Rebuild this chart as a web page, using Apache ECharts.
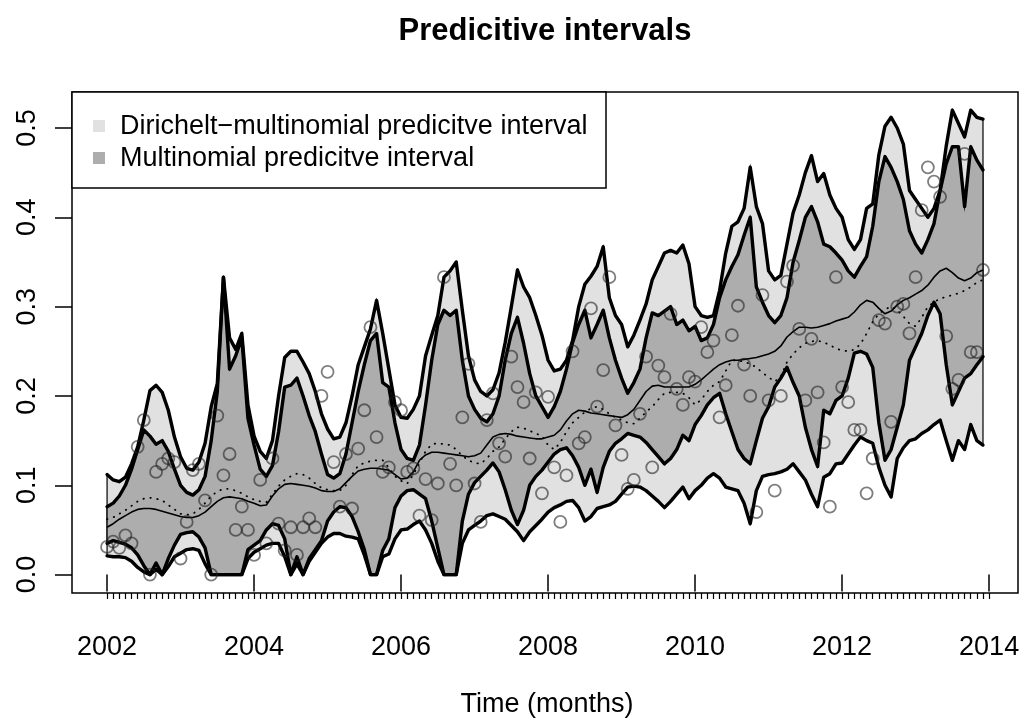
<!DOCTYPE html>
<html>
<head>
<meta charset="utf-8">
<script src="https://cdn.jsdelivr.net/npm/echarts@6/dist/echarts.min.js"></script>
<style>
  html, body { margin: 0; padding: 0; background: #fff; }
  #chart { width: 1023px; height: 725px; }
</style>
</head>
<body>
<div id="chart"></div>
<script>
// Monthly series, January 2002 .. December 2013
const startYear = 2002;

const outerUpper = [
  0.112, 0.106, 0.104, 0.109, 0.124, 0.143, 0.173, 0.206, 0.212, 0.204, 0.184, 0.154,
  0.132, 0.119, 0.117, 0.126, 0.147, 0.188, 0.214, 0.333, 0.265, 0.252, 0.270, 0.190,
  0.155, 0.138, 0.130, 0.150, 0.200, 0.243, 0.250, 0.250, 0.238, 0.225, 0.205, 0.180,
  0.163, 0.152, 0.154, 0.170, 0.200, 0.235, 0.255, 0.275, 0.307, 0.270, 0.230, 0.190,
  0.176, 0.175, 0.185, 0.200, 0.245, 0.268, 0.290, 0.333, 0.340, 0.350, 0.296, 0.245,
  0.218, 0.205, 0.200, 0.207, 0.226, 0.260, 0.300, 0.341, 0.322, 0.310, 0.290, 0.268,
  0.240, 0.228, 0.230, 0.240, 0.262, 0.300, 0.325, 0.334, 0.345, 0.367, 0.310, 0.290,
  0.280, 0.255, 0.268, 0.285, 0.303, 0.330, 0.345, 0.360, 0.363, 0.360, 0.369, 0.348,
  0.300, 0.290, 0.288, 0.290, 0.318, 0.360, 0.390, 0.395, 0.410, 0.456, 0.412, 0.393,
  0.340, 0.330, 0.335, 0.370, 0.405, 0.425, 0.450, 0.469, 0.440, 0.449, 0.425, 0.410,
  0.400, 0.375, 0.364, 0.375, 0.410, 0.415, 0.470, 0.502, 0.512, 0.500, 0.482, 0.430,
  0.420, 0.410, 0.400, 0.410, 0.430, 0.480, 0.520, 0.505, 0.490, 0.520, 0.512, 0.510
];

const innerUpper = [
  0.076, 0.080, 0.088, 0.100, 0.118, 0.140, 0.162, 0.155, 0.146, 0.150, 0.138, 0.118,
  0.100, 0.092, 0.089, 0.095, 0.110, 0.150, 0.205, 0.333, 0.230, 0.245, 0.265, 0.175,
  0.145, 0.118, 0.110, 0.122, 0.160, 0.210, 0.212, 0.220, 0.200, 0.178, 0.160, 0.135,
  0.112, 0.108, 0.113, 0.135, 0.170, 0.205, 0.235, 0.262, 0.270, 0.215, 0.210, 0.170,
  0.140, 0.130, 0.128, 0.145, 0.190, 0.240, 0.280, 0.296, 0.290, 0.296, 0.240, 0.200,
  0.185, 0.175, 0.171, 0.180, 0.200, 0.240, 0.270, 0.288, 0.259, 0.225, 0.200, 0.188,
  0.176, 0.188, 0.205, 0.230, 0.260, 0.280, 0.296, 0.265, 0.280, 0.296, 0.265, 0.240,
  0.220, 0.203, 0.215, 0.230, 0.265, 0.293, 0.290, 0.295, 0.300, 0.280, 0.285, 0.273,
  0.278, 0.262, 0.265, 0.280, 0.310, 0.330, 0.345, 0.358, 0.380, 0.400, 0.322, 0.305,
  0.290, 0.282, 0.290, 0.310, 0.350, 0.374, 0.400, 0.412, 0.395, 0.370, 0.367, 0.360,
  0.352, 0.340, 0.333, 0.345, 0.356, 0.390, 0.440, 0.468, 0.456, 0.440, 0.420, 0.385,
  0.370, 0.360, 0.375, 0.393, 0.430, 0.460, 0.479, 0.479, 0.412, 0.479, 0.464, 0.453
];

const innerLower = [
  0.035, 0.038, 0.036, 0.034, 0.030, 0.022, 0.010, 0.000, 0.013, 0.000, 0.018, 0.033,
  0.045, 0.047, 0.048, 0.042, 0.030, 0.000, 0.000, 0.000, 0.000, 0.000, 0.000, 0.028,
  0.033, 0.038, 0.050, 0.057, 0.055, 0.040, 0.000, 0.020, 0.000, 0.018, 0.028, 0.038,
  0.060, 0.070, 0.076, 0.075, 0.065, 0.048, 0.028, 0.000, 0.000, 0.027, 0.040, 0.075,
  0.088, 0.094, 0.095, 0.090, 0.085, 0.060, 0.030, 0.000, 0.000, 0.000, 0.060, 0.090,
  0.103, 0.110, 0.117, 0.125, 0.115, 0.095, 0.072, 0.056, 0.072, 0.100, 0.110, 0.117,
  0.126, 0.135, 0.140, 0.142, 0.133, 0.120, 0.100, 0.118, 0.092, 0.120, 0.138, 0.147,
  0.152, 0.158, 0.156, 0.154, 0.148, 0.140, 0.132, 0.124, 0.130, 0.140, 0.156, 0.150,
  0.168, 0.178, 0.190, 0.198, 0.203, 0.180, 0.160, 0.140, 0.130, 0.124, 0.150, 0.175,
  0.188, 0.210, 0.220, 0.232, 0.215, 0.200, 0.165, 0.140, 0.121, 0.184, 0.180, 0.195,
  0.200, 0.220, 0.248, 0.250, 0.247, 0.232, 0.170, 0.128, 0.140, 0.165, 0.190, 0.240,
  0.255, 0.270, 0.290, 0.305, 0.292, 0.235, 0.190, 0.205, 0.220, 0.225, 0.235, 0.244
];

const outerLower = [
  0.021, 0.020, 0.020, 0.019, 0.015, 0.008, 0.003, 0.000, 0.006, 0.000, 0.009, 0.020,
  0.024, 0.028, 0.029, 0.027, 0.012, 0.000, 0.000, 0.000, 0.000, 0.000, 0.000, 0.018,
  0.025, 0.029, 0.033, 0.035, 0.035, 0.020, 0.000, 0.012, 0.000, 0.015, 0.025, 0.035,
  0.042, 0.046, 0.046, 0.043, 0.042, 0.040, 0.022, 0.000, 0.000, 0.020, 0.023, 0.040,
  0.050, 0.051, 0.056, 0.060, 0.050, 0.035, 0.015, 0.000, 0.000, 0.000, 0.035, 0.050,
  0.055, 0.060, 0.066, 0.068, 0.065, 0.062, 0.055, 0.048, 0.038, 0.048, 0.055, 0.062,
  0.070, 0.075, 0.078, 0.082, 0.083, 0.075, 0.060, 0.065, 0.074, 0.076, 0.078, 0.082,
  0.090, 0.098, 0.099, 0.098, 0.094, 0.088, 0.082, 0.075, 0.082, 0.090, 0.098, 0.085,
  0.094, 0.100, 0.108, 0.113, 0.108, 0.098, 0.096, 0.094, 0.080, 0.057, 0.094, 0.110,
  0.112, 0.113, 0.115, 0.118, 0.124, 0.115, 0.106, 0.090, 0.076, 0.109, 0.113, 0.124,
  0.125, 0.135, 0.145, 0.154, 0.150, 0.147, 0.120, 0.100, 0.087, 0.130, 0.142, 0.150,
  0.152, 0.158, 0.162, 0.168, 0.173, 0.150, 0.128, 0.150, 0.140, 0.168, 0.150, 0.145
];

const fittedMean = [
  0.053, 0.057, 0.062, 0.066, 0.070, 0.073, 0.074, 0.074, 0.073, 0.071, 0.069, 0.067,
  0.065, 0.064, 0.064, 0.066, 0.070, 0.076, 0.082, 0.086, 0.087, 0.086, 0.085, 0.082,
  0.080, 0.077, 0.078, 0.088, 0.096, 0.101, 0.102, 0.101, 0.100, 0.099, 0.097, 0.094,
  0.093, 0.093, 0.096, 0.103, 0.110, 0.116, 0.118, 0.119, 0.119, 0.118, 0.117, 0.112,
  0.107, 0.108, 0.115, 0.128, 0.134, 0.137, 0.137, 0.136, 0.135, 0.134, 0.133, 0.132,
  0.133, 0.136, 0.145, 0.154, 0.157, 0.158, 0.157, 0.155, 0.154, 0.153, 0.152, 0.152,
  0.154, 0.156, 0.162, 0.172, 0.180, 0.184, 0.183, 0.181, 0.180, 0.179, 0.178, 0.177,
  0.176, 0.179, 0.185, 0.195, 0.205, 0.211, 0.212, 0.210, 0.210, 0.210, 0.210, 0.210,
  0.213, 0.218, 0.224, 0.230, 0.235, 0.238, 0.240, 0.240, 0.241, 0.242, 0.243, 0.245,
  0.247, 0.250, 0.256, 0.266, 0.272, 0.277, 0.277, 0.276, 0.277, 0.279, 0.281, 0.284,
  0.286, 0.288, 0.294, 0.302, 0.307, 0.305, 0.298, 0.292, 0.295, 0.302, 0.307, 0.310,
  0.314, 0.318, 0.324, 0.333, 0.340, 0.343, 0.338, 0.332, 0.329, 0.332, 0.338, 0.341
];

const smoothedTrend = [
  0.062, 0.064, 0.068, 0.072, 0.077, 0.082, 0.085, 0.086, 0.085, 0.083, 0.078, 0.073,
  0.068, 0.067, 0.068, 0.073, 0.080, 0.088, 0.093, 0.096, 0.096, 0.094, 0.091, 0.087,
  0.084, 0.082, 0.081, 0.090, 0.099, 0.106, 0.110, 0.113, 0.112, 0.108, 0.102, 0.097,
  0.095, 0.094, 0.094, 0.100, 0.112, 0.122, 0.125, 0.127, 0.128, 0.128, 0.120, 0.110,
  0.105, 0.102, 0.112, 0.125, 0.138, 0.146, 0.147, 0.146, 0.145, 0.140, 0.133, 0.128,
  0.125, 0.124, 0.130, 0.138, 0.143, 0.152, 0.160, 0.165, 0.164, 0.161, 0.158, 0.155,
  0.145, 0.140, 0.148, 0.160, 0.170, 0.176, 0.182, 0.186, 0.188, 0.185, 0.180, 0.176,
  0.173, 0.170, 0.169, 0.175, 0.182, 0.188, 0.196, 0.203, 0.204, 0.204, 0.203, 0.198,
  0.190, 0.196, 0.205, 0.212, 0.216, 0.228, 0.240, 0.240, 0.238, 0.236, 0.232, 0.226,
  0.221, 0.216, 0.222, 0.238, 0.247, 0.254, 0.259, 0.261, 0.262, 0.260, 0.257, 0.253,
  0.251, 0.250, 0.252, 0.258, 0.270, 0.283, 0.292, 0.297, 0.300, 0.296, 0.289, 0.281,
  0.278, 0.288, 0.300, 0.305, 0.309, 0.311, 0.313, 0.315, 0.318, 0.322, 0.327, 0.330
];

const observed = [
  0.031, 0.037, 0.030, 0.044, 0.035, 0.143, 0.173, 0.000, 0.115, 0.124, 0.130, 0.126,
  0.018, 0.059, 0.117, 0.124, 0.083, 0.000, 0.178, 0.111, 0.135, 0.050, 0.076, 0.050,
  0.022, 0.106, 0.035, 0.130, 0.057, 0.027, 0.053, 0.022, 0.053, 0.063, 0.053, 0.200,
  0.227, 0.126, 0.076, 0.135, 0.074, 0.141, 0.184, 0.277, 0.154, 0.115, 0.120, 0.193,
  0.184, 0.115, 0.119, 0.066, 0.107, 0.061, 0.102, 0.333, 0.124, 0.100, 0.176, 0.236,
  0.102, 0.059, 0.173, 0.203, 0.147, 0.132, 0.244, 0.210, 0.193, 0.130, 0.204, 0.091,
  0.199, 0.120, 0.059, 0.111, 0.250, 0.147, 0.154, 0.298, 0.188, 0.229, 0.333, 0.167,
  0.134, 0.096, 0.106, 0.180, 0.244, 0.120, 0.234, 0.221, 0.292, 0.208, 0.190, 0.221,
  0.216, 0.277, 0.249, 0.262, 0.176, 0.212, 0.268, 0.301, 0.235, 0.200, 0.070, 0.313,
  0.195, 0.094, 0.200, 0.328, 0.346, 0.275, 0.195, 0.264, 0.204, 0.148, 0.076, 0.333,
  0.210, 0.193, 0.162, 0.162, 0.091, 0.130, 0.285, 0.281, 0.171, 0.300, 0.303, 0.270,
  0.333, 0.408, 0.456, 0.440, 0.423, 0.267, 0.208, 0.218, 0.471, 0.249, 0.249, 0.341
];

const yearTicks = [2002, 2004, 2006, 2008, 2010, 2012, 2014];
const valueTicks = [0, 0.1, 0.2, 0.3, 0.4, 0.5];
const legendLabels = ['Dirichelt\u2212multinomial predicitve interval', 'Multinomial predicitve interval'];
const titleText = 'Predicitive intervals';
const xTitle = 'Time (months)';

// Month positions on the time axis
const time = observed.map((_, i) => startYear + i / 12);
const monthTicks = [];
for (let k = 0; k <= 144; k++) monthTicks.push(startYear + k / 12);

const LIGHT = '#e1e1e1';
const DARK = '#adadad';
const FONT = 'Liberation Sans, Arial, Helvetica, sans-serif';

function band(lower, upper, color, z) {
  return {
    type: 'custom',
    coordinateSystem: 'cartesian2d',
    silent: true,
    z: z,
    data: [[time[0], upper[0]]],
    renderItem: function (params, api) {
      const pts = [];
      for (let i = 0; i < time.length; i++) pts.push(api.coord([time[i], upper[i]]));
      for (let i = time.length - 1; i >= 0; i--) pts.push(api.coord([time[i], lower[i]]));
      return {
        type: 'polygon',
        shape: { points: pts },
        style: { fill: color, stroke: '#000', lineWidth: 1.2 }
      };
    }
  };
}

function boundary(values) {
  return {
    type: 'line',
    data: time.map((t, i) => [t, values[i]]),
    symbol: 'none',
    silent: true,
    z: 3,
    lineStyle: { color: '#000', width: 3.4, join: 'round', cap: 'round' }
  };
}

const chart = echarts.init(document.getElementById('chart'), null, { renderer: 'canvas' });

chart.setOption({
  animation: false,
  backgroundColor: '#fff',
  title: [
    {
      text: titleText,
      left: 540, top: 11, textAlign: 'center',
      textStyle: { fontFamily: FONT, fontSize: 31, fontWeight: 'bold', color: '#000' }
    },
    {
      text: xTitle,
      left: 542, top: 686, textAlign: 'center',
      textStyle: { fontFamily: FONT, fontSize: 27, fontWeight: 'normal', color: '#000' }
    }
  ],
  grid: {
    left: 72, top: 92, right: 5, bottom: 132,
    show: true, borderColor: '#000', borderWidth: 1.5, backgroundColor: 'transparent'
  },
  xAxis: [
    {
      type: 'value', min: 2001.523, max: 2014.393,
      axisLine: { show: false },
      splitLine: { show: false },
      axisTick: { show: true, customValues: yearTicks, length: 17, lineStyle: { color: '#000', width: 1.5 } },
      axisLabel: {
        show: true, customValues: yearTicks, margin: 41,
        formatter: v => String(Math.round(v)),
        fontFamily: FONT, fontSize: 27, color: '#000'
      }
    },
    {
      type: 'value', min: 2001.523, max: 2014.393, position: 'bottom',
      axisLine: { show: false },
      splitLine: { show: false },
      axisLabel: { show: false },
      axisTick: { show: true, customValues: monthTicks, length: 6, lineStyle: { color: '#000', width: 1.2 } }
    }
  ],
  yAxis: {
    type: 'value', min: -0.0206, max: 0.5403,
    axisLine: { show: false },
    splitLine: { show: false },
    axisTick: { show: true, customValues: valueTicks, length: 17, lineStyle: { color: '#000', width: 1.5 } },
    axisLabel: {
      show: true, customValues: valueTicks, rotate: 90, margin: 31,
      formatter: v => v.toFixed(1),
      fontFamily: FONT, fontSize: 27, color: '#000'
    }
  },
  graphic: [
    { type: 'rect', z: 100, shape: { x: 72, y: 92, width: 534, height: 96 },
      style: { fill: '#fff', stroke: '#000', lineWidth: 1.5 } },
    { type: 'rect', z: 101, shape: { x: 93, y: 120, width: 12, height: 12 }, style: { fill: LIGHT } },
    { type: 'rect', z: 101, shape: { x: 93, y: 152, width: 12, height: 12 }, style: { fill: DARK } },
    { type: 'text', z: 101, x: 120, y: 127,
      style: { text: legendLabels[0], fontFamily: FONT, fontSize: 27, fill: '#000', verticalAlign: 'middle' } },
    { type: 'text', z: 101, x: 120, y: 159,
      style: { text: legendLabels[1], fontFamily: FONT, fontSize: 27, fill: '#000', verticalAlign: 'middle' } }
  ],
  series: [
    band(outerLower, outerUpper, LIGHT, 1),
    band(innerLower, innerUpper, DARK, 2),
    boundary(outerUpper),
    boundary(outerLower),
    boundary(innerUpper),
    boundary(innerLower),
    {
      type: 'line', data: time.map((t, i) => [t, fittedMean[i]]),
      symbol: 'none', silent: true, z: 4,
      lineStyle: { color: '#000', width: 1.6 }
    },
    {
      type: 'line', data: time.map((t, i) => [t, smoothedTrend[i]]),
      symbol: 'none', silent: true, z: 4,
      lineStyle: { color: '#000', width: 1.8, type: [0.5, 6.5], cap: 'round' }
    },
    {
      type: 'scatter', data: time.map((t, i) => [t, observed[i]]),
      symbol: 'circle', symbolSize: 12, silent: true, z: 5,
      itemStyle: { color: 'rgba(0,0,0,0)', borderColor: 'rgba(30,30,30,0.72)', borderWidth: 1.8 }
    }
  ]
});
</script>
</body>
</html>
